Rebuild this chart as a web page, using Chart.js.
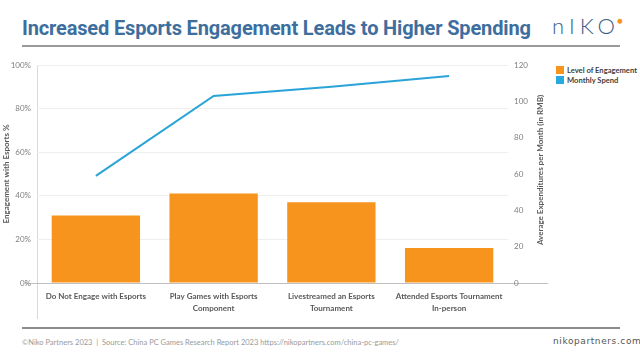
<!DOCTYPE html>
<html>
<head>
<meta charset="utf-8">
<script src="https://cdn.jsdelivr.net/npm/chart.js@4"></script>
<style>
  html, body { margin: 0; padding: 0; background: #fff; }
  body { width: 640px; height: 356px; position: relative; overflow: hidden; font-family: Lato, sans-serif; }
  #title { position: absolute; left: 22px; top: 16px; font-family: Roboto, sans-serif; font-weight: 700; font-size: 20px; color: #3d6e9e; white-space: nowrap; letter-spacing: -0.15px; }
  #logo { position: absolute; left: 552px; top: 12px; font-family: Lato, sans-serif; font-weight: 300; font-size: 22px; color: #3d5f86; letter-spacing: 5px; white-space: nowrap; }
  #logo span { color: #f7941d; font-size: 10px; position: relative; top: -10px; left: -3px; }
  #rule1 { position: absolute; left: 22px; top: 45px; width: 598px; height: 2px; background: #9a9a9a; }
  #rule2 { position: absolute; left: 22px; top: 327px; width: 598px; height: 2px; background: #8c8c8c; }
  #foot { position: absolute; left: 22px; top: 338px; font-size: 7.5px; color: #9a9a9a; white-space: nowrap; }
  #site { position: absolute; left: 553px; top: 336px; font-size: 9px; color: #555; letter-spacing: 0.6px; font-family: 'DejaVu Sans', sans-serif; white-space: nowrap; }
  #chartBox { position: absolute; left: 0; top: 50px; width: 552px; height: 275px; }
  #legend { position: absolute; left: 556px; top: 65px; font-size: 7.6px; font-weight: 700; color: #404040; }
  #legend div { height: 10px; line-height: 10px; white-space: nowrap; }
  #legend i { display: inline-block; width: 8px; height: 8px; margin-right: 3px; vertical-align: -1px; }
</style>
</head>
<body>
<div id="title">Increased Esports Engagement Leads to Higher Spending</div>
<div id="logo">nIKO<span>●</span></div>
<div id="rule1"></div>
<div id="chartBox"><canvas id="c" width="552" height="275"></canvas></div>
<div id="legend"></div>
<div id="rule2"></div>
<div id="foot">©Niko Partners 2023 &nbsp;|&nbsp; Source: China PC Games Research Report 2023 https://nikopartners.com/china-pc-games/</div>
<div id="site">nikopartners.com</div>
<script>
const categories = [
  ['Do Not Engage with Esports'],
  ['Play Games with Esports', 'Component'],
  ['Livestreamed an Esports', 'Tournament'],
  ['Attended Esports Tournament', 'In-person']
];
const engagementPct = [31, 41, 37, 16];
const monthlySpend = [59, 103, 108, 114];
const leftTicks = [0, 20, 40, 60, 80, 100];
const rightTicks = [0, 20, 40, 60, 80, 100, 120];
const seriesNames = ['Level of Engagement', 'Monthly Spend'];
const leftTitle = 'Engagement with Esports %';
const rightTitle = 'Average Expenditures per Month (in RMB)';

const ORANGE = '#f7941d';
const BLUE = '#2aa4d8';
const FONT = "Lato, 'Open Sans', sans-serif";

const rightTitlePlugin = {
  id: 'rightTitle',
  afterDraw(chart) {
    const s = chart.scales.y1;
    const ctx = chart.ctx;
    ctx.save();
    ctx.translate(540, (chart.chartArea.top + chart.chartArea.bottom) / 2 - 4);
    ctx.rotate(-Math.PI / 2);
    ctx.font = 'bold 8px ' + FONT;
    ctx.fillStyle = '#595959';
    ctx.textAlign = 'center';
    ctx.textBaseline = 'middle';
    ctx.fillText(s.options.title.text, 0, 0);
    ctx.restore();
  }
};

const chart = new Chart(document.getElementById('c'), {
  data: {
    labels: categories,
    datasets: [
      {
        type: 'line', label: seriesNames[1], data: monthlySpend, yAxisID: 'y1',
        borderColor: BLUE, backgroundColor: BLUE, borderWidth: 2, pointRadius: 0, tension: 0, order: 1
      },
      {
        type: 'bar', label: seriesNames[0], data: engagementPct, yAxisID: 'y',
        backgroundColor: ORANGE, borderWidth: 0, barPercentage: 0.75, categoryPercentage: 1.0, order: 2
      }
    ]
  },
  options: {
    responsive: false,
    devicePixelRatio: 1,
    animation: false,
    layout: { padding: { top: 15, left: 0, right: 0, bottom: 0 } },
    plugins: { legend: { display: false }, tooltip: { enabled: false } },
    scales: {
      x: {
        grid: {
          offset: true,
          color: c => (c.index === 0 || c.index === categories.length) ? '#d9d9d9' : 'rgba(0,0,0,0)',
          tickLength: 36
        },
        border: { display: false },
        ticks: { padding: -28, maxRotation: 0, autoSkip: false, color: '#595959', font: { family: FONT, size: 8, weight: 'bold', lineHeight: 1.45 } },
        afterFit: s => { s.height = 42; }
      },
      y: {
        position: 'left', min: 0, max: 100,
        afterBuildTicks: s => { s.ticks = leftTicks.map(v => ({ value: v })); },
        grid: {
          color: c => c.tick && c.tick.value === 0 ? '#bfbfbf' : '#eeeeee',
          tickColor: c => c.tick && c.tick.value === 0 ? '#bfbfbf' : 'rgba(0,0,0,0)',
          tickLength: 12
        },
        border: { display: false },
        ticks: { padding: -6, color: '#7f7f7f', font: { family: FONT, size: 8 }, callback: v => v + '%' },
        title: { display: true, text: leftTitle, color: '#595959', padding: { top: 2, bottom: 0 }, font: { family: FONT, size: 8, weight: 'bold' } },
        afterFit: s => { s.width = 37; }
      },
      y1: {
        position: 'right', min: 0, max: 120,
        afterBuildTicks: s => { s.ticks = rightTicks.map(v => ({ value: v })); },
        grid: {
          drawOnChartArea: false,
          tickColor: c => c.tick && c.tick.value === 0 ? '#bfbfbf' : 'rgba(0,0,0,0)',
          tickLength: 40
        },
        border: { display: false },
        ticks: { padding: -34, color: '#7f7f7f', font: { family: FONT, size: 8 } },
        title: { display: false, text: rightTitle },
        afterFit: s => { s.width = 44; }
      }
    }
  },
  plugins: [rightTitlePlugin]
});

// legend built from the chart's own legend items
const legendEl = document.getElementById('legend');
const items = chart.options.plugins.legend.labels.generateLabels(chart)
  .sort((a, b) => seriesNames.indexOf(a.text) - seriesNames.indexOf(b.text));
items.forEach(it => {
  const d = document.createElement('div');
  const sw = document.createElement('i');
  sw.style.background = it.text === seriesNames[0] ? ORANGE : '#29a9e1';
  d.appendChild(sw);
  d.appendChild(document.createTextNode(it.text));
  legendEl.appendChild(d);
});
</script>
</body>
</html>
